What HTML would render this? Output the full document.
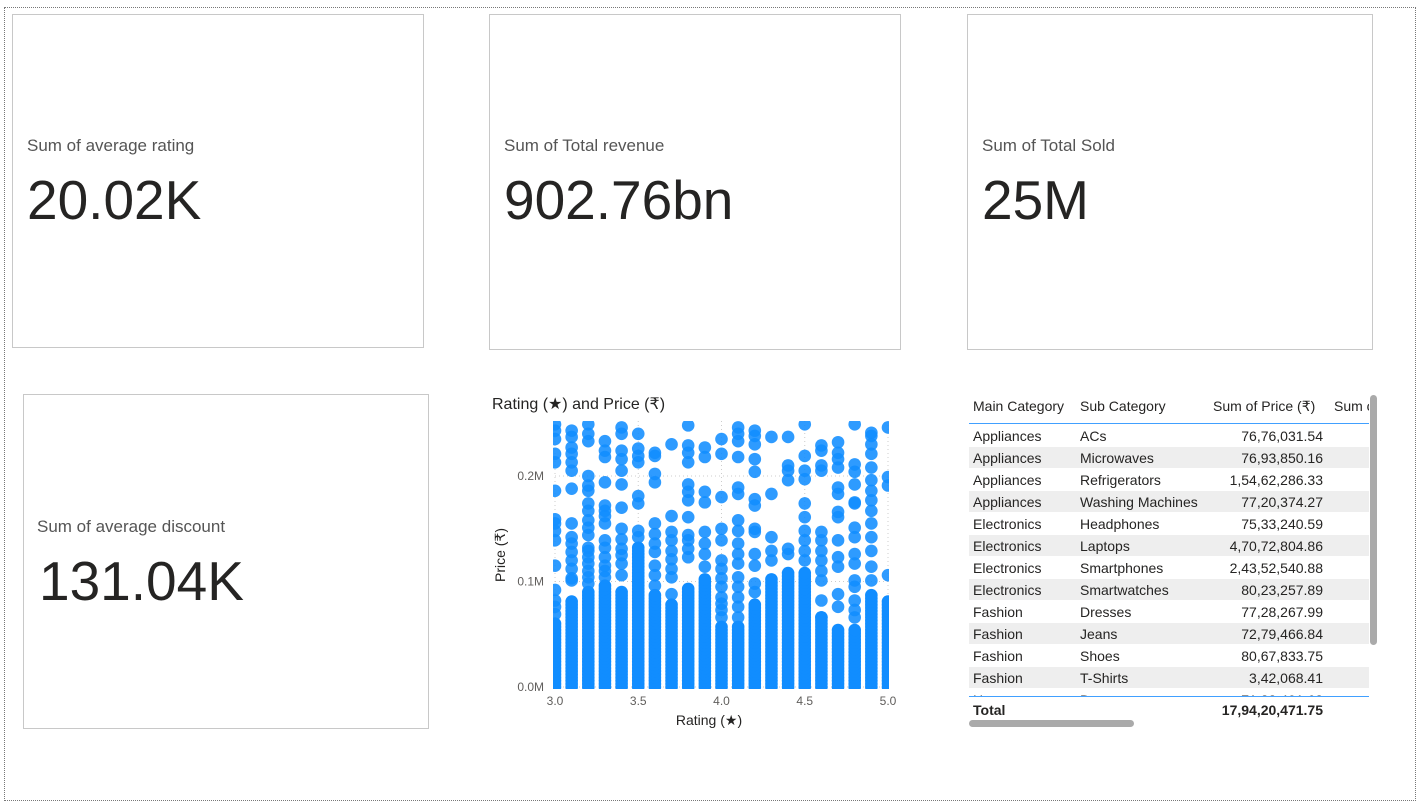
<!DOCTYPE html>
<html><head><meta charset="utf-8"><style>
body{margin:0;width:1419px;height:805px;background:#fff;font-family:"Liberation Sans",sans-serif;position:relative;overflow:hidden}
.outer{position:absolute;left:4px;top:7px;width:1410px;height:792px;border:1px dotted #777}
.card{position:absolute;border:1px solid #c8c8c8;background:#fff}
.card .lbl{position:absolute;font-size:17px;color:#555}
.card .val{position:absolute;font-size:55px;color:#252423;letter-spacing:0px}
.tbl{position:absolute;left:969px;top:392px;width:400px;height:310px;overflow:hidden;font-size:14px;color:#252423}
.row{position:absolute;left:0;width:400px;height:21px}
.row span{position:absolute;top:3px;white-space:nowrap}
</style></head><body>
<div class="outer"></div>

<div class="card" style="left:12px;top:14px;width:410px;height:332px">
 <div class="lbl" style="left:14px;top:121px">Sum of average rating</div>
 <div class="val" style="left:14px;top:153px">20.02K</div></div>
<div class="card" style="left:489px;top:14px;width:410px;height:334px">
 <div class="lbl" style="left:14px;top:121px">Sum of Total revenue</div>
 <div class="val" style="left:14px;top:153px">902.76bn</div></div>
<div class="card" style="left:967px;top:14px;width:404px;height:334px">
 <div class="lbl" style="left:14px;top:121px">Sum of Total Sold</div>
 <div class="val" style="left:14px;top:153px">25M</div></div>
<div class="card" style="left:23px;top:394px;width:404px;height:333px">
 <div class="lbl" style="left:13px;top:122px">Sum of average discount</div>
 <div class="val" style="left:15px;top:154px">131.04K</div></div>

<svg id="sc" style="position:absolute;left:0;top:0" width="1419" height="805">
 <text x="492" y="409" font-size="16" fill="#252423" font-family="Liberation Sans, DejaVu Sans, sans-serif">Rating (★) and Price (₹)</text>
 <defs><clipPath id="cp"><rect x="553" y="421" width="336" height="268"/></clipPath></defs>
 <g id="grid"></g><g id="pts" clip-path="url(#cp)"></g><g id="axes"></g>
 <text x="709" y="725" font-size="14" text-anchor="middle" fill="#252423" font-family="Liberation Sans, DejaVu Sans, sans-serif">Rating (★)</text>
 <text transform="translate(505,555) rotate(-90)" font-size="14" text-anchor="middle" fill="#252423" font-family="Liberation Sans, DejaVu Sans, sans-serif">Price (₹)</text>
</svg>

<div class="tbl" id="tbl">
 <div class="row" style="top:3px">
  <span style="left:4px">Main Category</span><span style="left:111px">Sub Category</span><span style="left:244px">Sum of Price (₹)</span><span style="left:365px">Sum of</span></div>
 <div style="position:absolute;left:0;top:31px;width:400px;height:1px;background:#41a0ff"></div>
</div>
<div style="position:absolute;left:969px;top:696px;width:400px;height:1px;background:#41a0ff"></div>
<div style="position:absolute;left:969px;top:697px;width:400px;height:24px;background:#fff;font-size:14px;font-weight:bold;color:#252423">
 <span style="position:absolute;left:4px;top:5px">Total</span><span style="position:absolute;right:46px;top:5px">17,94,20,471.75</span></div>
<div style="position:absolute;left:1370px;top:395px;width:7px;height:250px;background:#aaa;border-radius:4px"></div>
<div style="position:absolute;left:969px;top:720px;width:165px;height:7px;background:#aaa;border-radius:4px"></div>

<script>
const mainCats=["Appliances","Appliances","Appliances","Appliances","Electronics","Electronics","Electronics","Electronics","Fashion","Fashion","Fashion","Fashion","Home"];
const subCats=["ACs","Microwaves","Refrigerators","Washing Machines","Headphones","Laptops","Smartphones","Smartwatches","Dresses","Jeans","Shoes","T-Shirts","Decor"];
const prices=["76,76,031.54","76,93,850.16","1,54,62,286.33","77,20,374.27","75,33,240.59","4,70,72,804.86","2,43,52,540.88","80,23,257.89","77,28,267.99","72,79,466.84","80,67,833.75","3,42,068.41","71,88,491.63"];
const tbl=document.getElementById('tbl');
mainCats.forEach((m,i)=>{
 const r=document.createElement('div');r.className='row';r.style.top=(33+i*22)+'px';
 if(i%2==1)r.style.background='#eeeeee';
 
 
 r.innerHTML='<span style="left:4px">'+m+'</span><span style="left:111px">'+subCats[i]+'</span><span style="right:46px">'+prices[i]+'</span>';
 tbl.appendChild(r);
});

const ratings=[3.0,3.1,3.2,3.3,3.4,3.5,3.6,3.7,3.8,3.9,4.0,4.1,4.2,4.3,4.4,4.5,4.6,4.7,4.8,4.9,5.0];
const denseTopK=[60,82,92,98,92,132,88,79,95,104,57,57,79,104,110,110,66,54,54,88,82];
const sparseK=[
 [69,76,82,92,115,139,148,155,159,186,213,221,235,243,249],
 [101,103,112,120,128,136,142,155,188,205,213,221,227,237,243],
 [98,104,110,117,123,129,132,144,151,158,167,174,186,191,200,233,240,249],
 [104,110,115,123,132,139,155,162,167,172,194,218,224,233],
 [106,117,125,131,140,150,170,192,205,216,224,240,246],
 [142,148,174,181,213,219,226,240],
 [96,106,115,128,136,145,155,194,202,219,222],
 [88,104,112,121,129,139,147,162,230],
 [123,131,139,144,161,177,185,192,213,222,229,248],
 [114,126,136,147,175,185,218,227],
 [66,73,79,85,95,103,112,120,139,150,180,221,235],
 [66,76,85,95,104,117,126,136,148,158,183,189,218,233,240,246],
 [90,98,115,126,147,150,172,178,204,216,230,238,243],
 [120,129,142,183,237],
 [126,131,196,205,210,237],
 [120,129,139,148,161,174,197,205,219,249],
 [66,82,101,110,120,129,139,147,205,210,224,229],
 [76,88,114,123,139,161,166,183,189,208,216,222,232],
 [66,73,82,95,101,117,126,142,151,174,175,192,204,211,249],
 [101,114,129,142,155,167,177,186,196,208,221,230,238,241],
 [106,191,199,246]
];
const xTicks=[3.0,3.5,4.0,4.5,5.0];
const yTicks=[0,100,200];
const yTickLabels=["0.0M","0.1M","0.2M"];
const xs=r=>555+(r-3)*166.5, ys=k=>687-k*1.055;
const NS='http://www.w3.org/2000/svg';
const grid=document.getElementById('grid'),pts=document.getElementById('pts'),axes=document.getElementById('axes');
function mk(tag,attrs,parent){const e=document.createElementNS(NS,tag);for(const k in attrs)e.setAttribute(k,attrs[k]);parent.appendChild(e);return e;}
xTicks.forEach(t=>{
 mk('line',{x1:xs(t),x2:xs(t),y1:421,y2:687,stroke:'#ccc','stroke-dasharray':'1,3'},grid);
 const tx=mk('text',{x:xs(t),y:705,'font-size':12,'text-anchor':'middle',fill:'#605e5c','font-family':'Liberation Sans, sans-serif'},axes);
 tx.textContent=t.toFixed(1);
 
 
});
yTicks.forEach((t,i)=>{
 mk('line',{x1:555,x2:890,y1:ys(t),y2:ys(t),stroke:'#ccc','stroke-dasharray':'1,3'},grid);
 const tx=mk('text',{x:544,y:ys(t)+4,'font-size':12,'text-anchor':'end',fill:'#605e5c','font-family':'Liberation Sans, sans-serif'},axes);
 tx.textContent=yTickLabels[i];
 
 
});
const col='#118dff';
ratings.forEach((r,i)=>{
 for(let k=0;k<=denseTopK[i];k+=3){
  const c=mk('circle',{cx:xs(r),cy:ys(k),r:6.3,fill:col},pts);
  
  
 }
 sparseK[i].forEach(k=>{
  const c=mk('circle',{cx:xs(r),cy:ys(k),r:6.3,fill:col,'fill-opacity':0.88},pts);
  
  
 });
});
</script>
</body></html>
